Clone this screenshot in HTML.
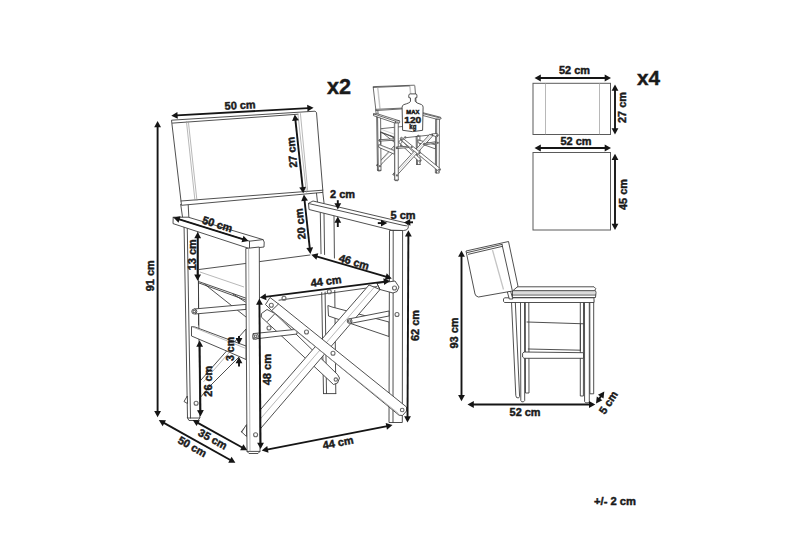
<!DOCTYPE html>
<html><head><meta charset="utf-8"><style>
html,body{margin:0;padding:0;background:#fff;width:800px;height:533px;overflow:hidden}
svg{display:block}
.d{fill:none;stroke:#3c3c3c;stroke-width:var(--sw,0.9);stroke-linejoin:round;stroke-linecap:round;vector-effect:non-scaling-stroke}
.l{fill:none;stroke:#9a9a9a;stroke-width:var(--swl,0.7);vector-effect:non-scaling-stroke}
.f{fill:#fff;stroke:#3c3c3c;stroke-width:var(--sw,0.9);stroke-linejoin:round;vector-effect:non-scaling-stroke}
.rb{fill:none;stroke:#5a5a5a;stroke-width:1}
.nf{fill:#fff;stroke:none}
.bolt{fill:none;stroke:#6a6a6a;stroke-width:1.1;vector-effect:non-scaling-stroke}
.ar{stroke:#151515;stroke-width:1.9;fill:none}
.ah{fill:#151515;stroke:none}
text{font-family:"Liberation Sans",sans-serif;font-weight:bold;fill:#1a1a1a;stroke:#1a1a1a;stroke-width:0.45;text-anchor:middle}
</style></head><body>
<svg width="800" height="533" viewBox="0 0 800 533">
<g id="chair">
<polyline class="d" points="320.30,212.80 323.50,393.60"/>
<polyline class="d" points="324.00,212.80 326.50,393.60"/>
<polyline class="d" points="334.00,215.30 335.80,393.60"/>
<polyline class="d" points="323.50,393.60 335.80,393.60"/>
<polygon class="nf" points="199.00,269.50 259.50,261.60 322.00,254.00 391.00,278.50 377.00,283.20 270.00,300.60 245.50,298.00 198.50,281.50"/>
<polyline class="d" points="199.00,269.50 245.50,263.50"/>
<polyline class="d" points="259.50,261.60 310.00,255.00"/>
<polygon class="f" points="327.90,305.50 332.00,307.00 389.00,322.00 389.00,336.50 330.00,316.50 328.50,316.00"/>
<polygon class="f" points="261.50,313.50 267.00,309.50 275.00,313.50 337.50,374.50 339.50,378.00 337.50,383.00 333.50,384.50 261.25,317.00"/>
<polyline class="d" points="267.50,321.40 274.60,314.00"/>
<circle class="bolt" cx="335.8" cy="379.6" r="1.7"/>
<circle class="bolt" cx="269" cy="328" r="2.0"/>
<polygon class="f" points="187.50,398.00 201.00,380.00 246.00,329.00 246.00,350.00 210.00,386.00 199.00,399.00"/>
<polyline class="l" points="203.50,381.80 241.00,339.00"/>
<polygon class="f" points="184.00,223.00 197.80,224.00 199.80,418.00 187.50,418.00"/>
<polyline class="d" points="187.20,224.00 190.50,418.00"/>
<polyline class="d" points="187.50,418.00 189.00,420.50 198.00,420.50 199.80,418.00"/>
<circle class="bolt" cx="196.1" cy="403.3" r="2.0"/>
<polygon class="f" points="187.30,396.00 184.00,401.50 187.50,403.50"/>
<polyline class="d" points="198.50,281.50 198.50,325.00"/>
<polyline class="d" points="198.50,281.50 245.50,298.00"/>
<polyline class="d" points="198.50,282.80 245.50,300.00"/>
<polyline class="l" points="200.00,272.00 244.00,287.00"/>
<polyline class="d" points="205.00,284.50 246.00,317.00"/>
<polyline class="d" points="233.00,294.00 245.50,302.00"/>
<circle class="bolt" cx="243" cy="307.5" r="2.0"/>
<polygon class="f" points="194.00,309.00 246.00,304.40 246.00,309.40 195.00,314.00"/>
<circle class="f" cx="194.3" cy="311.5" r="2.5"/>
<circle class="bolt" cx="194.3" cy="311.5" r="1.3"/>
<polygon class="f" points="191.50,326.50 195.00,327.00 246.00,346.00 246.00,359.50 229.00,352.00 191.50,336.00"/>
<polyline class="l" points="191.50,326.50 246.00,348.50"/>
<polyline class="d" points="180.70,204.40 182.60,217.60"/>
<polyline class="d" points="188.20,205.00 188.90,218.20"/>
<polygon class="f" points="171.50,120.20 315.00,111.20 316.50,112.50 322.80,190.20 322.80,192.40 181.50,205.30"/>
<polyline class="d" points="172.50,123.10 298.00,114.20"/>
<polyline class="d" points="181.00,201.00 322.80,190.20"/>
<polyline class="l" points="186.40,121.00 195.00,201.00"/>
<polyline class="l" points="188.30,121.00 197.00,201.00"/>
<polyline class="l" points="297.90,113.80 306.40,192.70"/>
<polyline class="l" points="300.40,113.20 307.70,190.80"/>
<polyline class="d" points="316.50,193.30 317.70,204.00"/>
<polyline class="d" points="322.80,192.40 324.00,202.70"/>
<polygon class="f" points="173.20,217.20 188.20,217.20 263.00,239.60 264.20,242.00 264.00,247.00 249.50,248.60 173.00,223.60"/>
<polyline class="d" points="173.20,217.40 249.50,241.20 263.00,239.60"/>
<polyline class="d" points="249.50,241.20 249.50,248.60"/>
<path class="f" d="M308.5,203.3 L313,201 L405.5,222.8 Q409.5,224.5 408.2,228 Q407.2,230.6 403.5,230.5 L391.7,230.2 L309,209.5 Z"/>
<polyline class="d" points="308.50,203.50 403.00,225.30 406.50,225.80"/>
<polygon class="f" points="389.50,230.50 402.60,230.50 402.30,422.50 389.00,422.50"/>
<polyline class="d" points="393.20,230.50 393.00,422.50"/>
<circle class="bolt" cx="397" cy="314.5" r="2.0"/>
<polyline class="d" points="279.00,300.20 377.00,286.60"/>
<circle class="bolt" cx="284" cy="298.2" r="2.0"/>
<circle class="bolt" cx="329.3" cy="291.8" r="2.0"/>
<polygon class="f" points="241.00,432.00 369.00,285.00 380.00,289.50 257.60,432.00"/>
<polyline class="l" points="249.00,432.00 374.50,287.00"/>
<polygon class="f" points="349.50,318.80 389.00,311.00 389.00,316.00 351.00,323.30"/>
<circle class="f" cx="349.6" cy="321" r="2.4"/>
<circle class="bolt" cx="349.6" cy="321" r="1.2"/>
<polygon class="f" points="246.50,424.50 241.70,432.00 246.50,436.50"/>
<polygon class="f" points="245.80,248.50 259.30,247.00 260.00,451.40 247.00,451.40"/>
<polyline class="l" points="248.60,248.50 250.00,451.40"/>
<polyline class="d" points="247.00,451.40 249.00,453.50 258.00,453.50 260.00,451.40"/>
<circle class="bolt" cx="255.6" cy="434.8" r="2.0"/>
<polygon class="f" points="253.00,333.60 297.00,329.30 297.00,334.00 253.00,339.20"/>
<circle class="f" cx="255.6" cy="336.3" r="2.8"/>
<circle class="bolt" cx="255.6" cy="336.3" r="1.3"/>
<polygon class="f" points="270.00,297.50 278.50,304.00 406.50,407.00 406.50,411.00 402.50,415.50 399.00,415.20 271.50,310.50 265.50,304.50"/>
<polyline class="d" points="278.50,304.00 272.00,310.30"/>
<polyline class="l" points="274.00,313.50 398.50,413.50"/>
<circle class="bolt" cx="271.3" cy="305.3" r="2.0"/>
<circle class="bolt" cx="306.5" cy="332" r="2.0"/>
<circle class="bolt" cx="333" cy="353.3" r="2.0"/>
<circle class="bolt" cx="402.2" cy="410" r="1.8"/>
<polygon class="f" points="377.00,283.50 395.00,281.00 399.00,287.00 397.00,291.50 393.00,293.00 380.00,289.50"/>
<polyline class="d" points="380.00,289.50 377.00,283.50"/>
<circle class="bolt" cx="394.5" cy="288" r="2.0"/>
</g>
<use href="#chair" style="--sw:0.75;--swl:0.45" transform="matrix(0.2873,0.0076,-0.0008,0.2802,323.95,51.65)"/>
<polygon class="ah" points="171.30,115.70 177.40,111.96 177.78,118.75"/>
<polygon class="ah" points="313.60,107.80 307.50,111.54 307.12,104.75"/>
<line class="ar" x1="176.59" y1="115.41" x2="308.31" y2="108.09"/>
<text transform="translate(240.10,105.10) rotate(-3.10)" x="0" y="3.85" font-size="11" textLength="31" lengthAdjust="spacingAndGlyphs">50 cm</text>
<polygon class="ah" points="294.80,114.40 298.86,120.30 292.09,121.03"/>
<polygon class="ah" points="303.30,193.30 299.24,187.40 306.01,186.67"/>
<line class="ar" x1="295.37" y1="119.67" x2="302.73" y2="188.03"/>
<text transform="translate(291.90,152.30) rotate(-96.00)" x="0" y="3.85" font-size="11" textLength="31" lengthAdjust="spacingAndGlyphs">27 cm</text>
<polygon class="ah" points="157.60,121.00 161.00,127.30 154.20,127.30"/>
<polygon class="ah" points="157.60,417.30 154.20,411.00 161.00,411.00"/>
<line class="ar" x1="157.60" y1="126.30" x2="157.60" y2="412.00"/>
<text transform="translate(150.00,275.80) rotate(-90.00)" x="0" y="3.85" font-size="11" textLength="31" lengthAdjust="spacingAndGlyphs">91 cm</text>
<polygon class="ah" points="173.50,217.60 180.53,216.22 178.51,222.72"/>
<polygon class="ah" points="248.50,240.90 241.47,242.28 243.49,235.78"/>
<line class="ar" x1="178.56" y1="219.17" x2="243.44" y2="239.33"/>
<text transform="translate(217.50,224.10) rotate(17.30)" x="0" y="3.85" font-size="11" textLength="31" lengthAdjust="spacingAndGlyphs">50 cm</text>
<polygon class="ah" points="197.70,232.00 201.09,238.31 194.29,238.29"/>
<polygon class="ah" points="197.60,280.80 194.21,274.49 201.01,274.51"/>
<line class="ar" x1="197.69" y1="237.30" x2="197.61" y2="275.50"/>
<text transform="translate(191.70,254.80) rotate(-90.00)" x="0" y="3.85" font-size="11" textLength="31" lengthAdjust="spacingAndGlyphs">13 cm</text>
<polygon class="ah" points="303.90,194.50 307.97,200.39 301.21,201.13"/>
<polygon class="ah" points="310.40,253.90 306.33,248.01 313.09,247.27"/>
<line class="ar" x1="304.48" y1="199.77" x2="309.82" y2="248.63"/>
<text transform="translate(300.30,224.00) rotate(-96.20)" x="0" y="3.85" font-size="11" textLength="31" lengthAdjust="spacingAndGlyphs">20 cm</text>
<polygon class="ah" points="337.80,209.60 334.40,203.30 341.20,203.30"/>
<line class="ar" x1="337.80" y1="200.20" x2="337.80" y2="204.30"/>
<polygon class="ah" points="337.80,216.50 341.20,222.80 334.40,222.80"/>
<line class="ar" x1="337.80" y1="221.80" x2="337.80" y2="227.00"/>
<text transform="translate(342.50,194.20) rotate(0.00)" x="0" y="3.85" font-size="11" textLength="25" lengthAdjust="spacingAndGlyphs">2 cm</text>
<polygon class="ah" points="387.30,223.10 381.00,226.50 381.00,219.70"/>
<line class="ar" x1="377.80" y1="223.10" x2="382.00" y2="223.10"/>
<polygon class="ah" points="404.00,222.60 410.14,218.92 410.44,225.72"/>
<line class="ar" x1="409.29" y1="222.36" x2="413.00" y2="222.20"/>
<text transform="translate(403.10,215.40) rotate(0.00)" x="0" y="3.85" font-size="11" textLength="25" lengthAdjust="spacingAndGlyphs">5 cm</text>
<polygon class="ah" points="311.30,254.80 318.30,253.31 316.39,259.84"/>
<polygon class="ah" points="391.80,278.40 384.80,279.89 386.71,273.36"/>
<line class="ar" x1="316.39" y1="256.29" x2="386.71" y2="276.91"/>
<text transform="translate(354.10,261.80) rotate(16.40)" x="0" y="3.85" font-size="11" textLength="31" lengthAdjust="spacingAndGlyphs">46 cm</text>
<polygon class="ah" points="259.80,297.60 265.62,293.43 266.48,300.17"/>
<polygon class="ah" points="390.00,280.90 384.18,285.07 383.32,278.33"/>
<line class="ar" x1="265.06" y1="296.93" x2="384.74" y2="281.57"/>
<text transform="translate(326.10,281.20) rotate(-7.40)" x="0" y="3.85" font-size="11" textLength="31" lengthAdjust="spacingAndGlyphs">44 cm</text>
<polygon class="ah" points="259.40,298.50 262.85,304.77 256.05,304.83"/>
<polygon class="ah" points="260.60,449.00 257.15,442.73 263.95,442.67"/>
<line class="ar" x1="259.44" y1="303.80" x2="260.56" y2="443.70"/>
<text transform="translate(267.60,369.60) rotate(-90.00)" x="0" y="3.85" font-size="11" textLength="31.5" lengthAdjust="spacingAndGlyphs">48 cm</text>
<polygon class="ah" points="239.00,344.40 235.60,338.10 242.40,338.10"/>
<line class="ar" x1="239.00" y1="336.00" x2="239.00" y2="339.10"/>
<polygon class="ah" points="239.00,357.00 242.40,363.30 235.60,363.30"/>
<line class="ar" x1="239.00" y1="362.30" x2="239.00" y2="366.50"/>
<text transform="translate(230.20,349.00) rotate(-90.00)" x="0" y="3.85" font-size="11" textLength="24" lengthAdjust="spacingAndGlyphs">3 cm</text>
<polygon class="ah" points="199.60,340.40 203.07,346.66 196.27,346.74"/>
<polygon class="ah" points="200.50,416.40 197.03,410.14 203.83,410.06"/>
<line class="ar" x1="199.66" y1="345.70" x2="200.44" y2="411.10"/>
<text transform="translate(207.70,381.20) rotate(-90.00)" x="0" y="3.85" font-size="11" textLength="31" lengthAdjust="spacingAndGlyphs">26 cm</text>
<polygon class="ah" points="192.70,420.10 199.86,420.17 196.57,426.12"/>
<polygon class="ah" points="247.30,450.30 240.14,450.23 243.43,444.28"/>
<line class="ar" x1="197.34" y1="422.67" x2="242.66" y2="447.73"/>
<text transform="translate(212.80,439.10) rotate(28.70)" x="0" y="3.85" font-size="11" textLength="31" lengthAdjust="spacingAndGlyphs">35 cm</text>
<polygon class="ah" points="158.80,420.10 165.96,420.20 162.65,426.14"/>
<polygon class="ah" points="235.40,462.80 228.24,462.70 231.55,456.76"/>
<line class="ar" x1="163.43" y1="422.68" x2="230.77" y2="460.22"/>
<text transform="translate(192.30,446.60) rotate(29.20)" x="0" y="3.85" font-size="11" textLength="31" lengthAdjust="spacingAndGlyphs">50 cm</text>
<polygon class="ah" points="261.70,450.60 267.23,446.06 268.53,452.73"/>
<polygon class="ah" points="392.50,425.10 386.97,429.64 385.67,422.97"/>
<line class="ar" x1="266.90" y1="449.59" x2="387.30" y2="426.11"/>
<text transform="translate(338.00,442.60) rotate(-11.00)" x="0" y="3.85" font-size="11" textLength="31" lengthAdjust="spacingAndGlyphs">44 cm</text>
<polygon class="ah" points="408.40,230.30 411.77,236.62 404.97,236.58"/>
<polygon class="ah" points="407.50,422.50 404.13,416.18 410.93,416.22"/>
<line class="ar" x1="408.38" y1="235.60" x2="407.52" y2="417.20"/>
<text transform="translate(415.40,325.50) rotate(-90.00)" x="0" y="3.85" font-size="11" textLength="31" lengthAdjust="spacingAndGlyphs">62 cm</text>
<text transform="translate(339.00,86.50) rotate(0.00)" x="0" y="7.52" font-size="21.5" textLength="24" lengthAdjust="spacingAndGlyphs">x2</text>
<rect class="rb" x="533" y="83.3" width="77.5" height="51.2"/>
<polyline class="l" points="545.50,83.00 545.50,134.50"/>
<polyline class="l" points="599.50,83.00 599.50,134.50"/>
<polygon class="ah" points="534.50,78.00 540.80,74.60 540.80,81.40"/>
<polygon class="ah" points="611.00,78.00 604.70,81.40 604.70,74.60"/>
<line class="ar" x1="539.80" y1="78.00" x2="605.70" y2="78.00"/>
<text transform="translate(574.50,70.50) rotate(0.00)" x="0" y="3.85" font-size="11" textLength="31" lengthAdjust="spacingAndGlyphs">52 cm</text>
<polygon class="ah" points="615.00,84.50 618.40,90.80 611.60,90.80"/>
<polygon class="ah" points="615.00,134.50 611.60,128.20 618.40,128.20"/>
<line class="ar" x1="615.00" y1="89.80" x2="615.00" y2="129.20"/>
<text transform="translate(622.50,107.50) rotate(-90.00)" x="0" y="3.85" font-size="11" textLength="31" lengthAdjust="spacingAndGlyphs">27 cm</text>
<text transform="translate(648.60,78.60) rotate(0.00)" x="0" y="6.82" font-size="19.5" textLength="23" lengthAdjust="spacingAndGlyphs">x4</text>
<rect class="rb" x="533" y="152.5" width="77.5" height="77.5"/>
<polygon class="ah" points="534.50,148.00 540.80,144.60 540.80,151.40"/>
<polygon class="ah" points="611.00,148.00 604.70,151.40 604.70,144.60"/>
<line class="ar" x1="539.80" y1="148.00" x2="605.70" y2="148.00"/>
<text transform="translate(576.00,141.00) rotate(0.00)" x="0" y="3.85" font-size="11" textLength="31" lengthAdjust="spacingAndGlyphs">52 cm</text>
<polygon class="ah" points="615.00,153.80 618.40,160.10 611.60,160.10"/>
<polygon class="ah" points="615.00,230.00 611.60,223.70 618.40,223.70"/>
<line class="ar" x1="615.00" y1="159.10" x2="615.00" y2="224.70"/>
<text transform="translate(623.00,194.50) rotate(-90.00)" x="0" y="3.85" font-size="11" textLength="31" lengthAdjust="spacingAndGlyphs">45 cm</text>
<polygon class="f" points="511.50,302.00 515.30,302.00 519.60,396.50 518.50,398.00 516.50,397.50 515.80,395.50"/>
<polygon class="f" points="520.50,300.00 524.50,300.00 524.70,400.50 523.50,401.80 521.80,401.80 520.80,400.50"/>
<polygon class="f" points="525.30,300.00 528.80,300.00 529.00,393.00 525.50,393.00"/>
<polygon class="f" points="580.30,300.00 583.50,300.00 583.40,396.00 580.30,396.00"/>
<polygon class="f" points="584.50,300.00 589.30,300.00 589.30,401.50 588.30,402.80 585.60,402.80 584.60,401.50"/>
<polygon class="f" points="589.80,300.00 593.70,300.00 593.70,393.80 589.90,393.80"/>
<polyline class="d" points="527.00,322.00 583.50,323.80"/>
<polyline class="d" points="528.30,349.00 580.40,350.20"/>
<polyline class="d" points="580.40,323.80 580.40,350.20"/>
<polygon class="f" points="524.00,352.00 583.50,352.70 583.50,358.30 524.00,358.30 522.60,357.00 522.60,353.30"/>
<polygon class="f" points="503.50,299.00 504.50,297.80 594.00,297.80 594.00,302.50 504.50,302.50 503.50,301.30"/>
<polygon class="f" points="512.50,290.70 595.50,290.70 596.00,292.50 595.50,297.50 512.50,297.50"/>
<polyline class="l" points="512.50,293.00 595.50,293.00"/>
<polyline class="d" points="512.50,295.00 595.50,295.00"/>
<polygon class="f" points="512.50,286.80 594.00,286.80 595.80,288.70 594.50,290.70 512.50,290.70"/>
<polygon class="f" points="507.30,291.80 510.50,290.80 512.80,299.00 509.30,299.00"/>
<polygon class="f" points="466.00,251.00 508.50,241.50 518.00,286.30 512.50,291.00 478.50,297.00 476.20,296.00 475.00,294.00"/>
<polyline class="d" points="467.20,252.60 502.00,244.40"/>
<polyline class="d" points="468.40,254.30 502.60,246.30"/>
<polyline class="d" points="502.00,244.40 512.30,290.50"/>
<line x1="492.5" y1="250" x2="503.5" y2="289.5" stroke="#c4c4c4" stroke-width="1.3"/>
<polygon class="ah" points="461.50,250.50 464.90,256.80 458.10,256.80"/>
<polygon class="ah" points="461.50,401.20 458.10,394.90 464.90,394.90"/>
<line class="ar" x1="461.50" y1="255.80" x2="461.50" y2="395.90"/>
<text transform="translate(454.60,333.00) rotate(-90.00)" x="0" y="3.85" font-size="11" textLength="31" lengthAdjust="spacingAndGlyphs">93 cm</text>
<polygon class="ah" points="467.50,404.50 473.80,401.10 473.80,407.90"/>
<polygon class="ah" points="595.30,404.50 589.00,407.90 589.00,401.10"/>
<line class="ar" x1="472.80" y1="404.50" x2="590.00" y2="404.50"/>
<text transform="translate(525.10,411.80) rotate(0.00)" x="0" y="3.85" font-size="11" textLength="31" lengthAdjust="spacingAndGlyphs">52 cm</text>
<polygon class="ah" points="596.00,403.50 596.79,396.38 602.38,400.25"/>
<polygon class="ah" points="604.30,391.50 603.51,398.62 597.92,394.75"/>
<line class="ar" x1="599.01" y1="399.14" x2="601.29" y2="395.86"/>
<text transform="translate(608.30,402.50) rotate(-57.00)" x="0" y="3.85" font-size="11" textLength="25" lengthAdjust="spacingAndGlyphs">5 cm</text>
<text transform="translate(615.00,501.50) rotate(0.00)" x="0" y="3.85" font-size="11" textLength="42" lengthAdjust="spacingAndGlyphs">+/- 2 cm</text>
<path class="f" d="M408.8,97.6 L408.8,95.2 Q408.9,93.9 410.4,93.9 L415.4,93.9 Q416.9,93.9 416.9,95.2 L416.9,97.6 L415.3,97.9 L415.2,101.3 Q415.6,102.8 421.5,104.6 Q423.1,105.3 423.1,107.2 L422.6,130.3 Q412.7,133 402.6,130.3 L402.1,107.2 Q402.1,105.3 403.9,104.6 Q410.2,102.8 410.5,101.3 L410.4,97.9 Z"/>
<text transform="translate(412.80,111.70) rotate(0.00)" x="0" y="1.85" font-size="5.3" textLength="13" lengthAdjust="spacingAndGlyphs">MAX</text>
<text transform="translate(412.80,119.60) rotate(0.00)" x="0" y="3.43" font-size="9.8" textLength="17" lengthAdjust="spacingAndGlyphs">120</text>
<text transform="translate(412.8,128.9)" x="0" y="0" font-size="6.4" textLength="7" lengthAdjust="spacingAndGlyphs">kg</text>
</svg></body></html>
